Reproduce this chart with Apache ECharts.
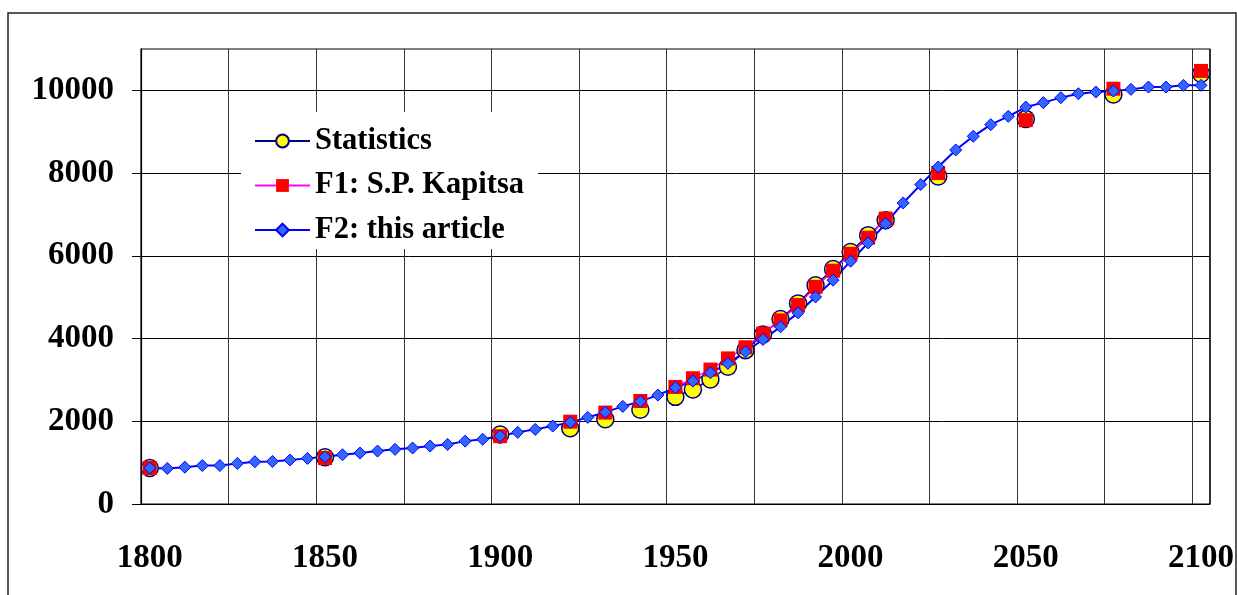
<!DOCTYPE html>
<html>
<head>
<meta charset="utf-8">
<script src="https://cdn.jsdelivr.net/npm/echarts@6/dist/echarts.min.js"></script>
<style>
html,body{margin:0;padding:0;background:#fff;}
#chart{width:1237px;height:595px;}
</style>
</head>
<body>
<div id="chart"></div>
<script>
// Categories: every 5 years 1800..2100
const years = [1800,1805,1810,1815,1820,1825,1830,1835,1840,1845,1850,1855,1860,1865,1870,1875,1880,1885,1890,1895,1900,1905,1910,1915,1920,1925,1930,1935,1940,1945,1950,1955,1960,1965,1970,1975,1980,1985,1990,1995,2000,2005,2010,2015,2020,2025,2030,2035,2040,2045,2050,2055,2060,2065,2070,2075,2080,2085,2090,2095,2100];

// Statistics and F1 (S.P. Kapitsa) are given at these years only
const statYears  = [1800,1850,1900,1920,1930,1940,1950,1955,1960,1965,1970,1975,1980,1985,1990,1995,2000,2005,2010,2025,2050,2075,2100];
const statValues = [870,1130,1680,1830,2050,2280,2590,2770,3010,3320,3720,4100,4470,4850,5290,5680,6090,6500,6860,7920,9310,9900,10400];
const f1Values   = [870,1110,1640,1990,2210,2490,2830,3040,3250,3520,3790,4120,4440,4810,5250,5640,6050,6440,6900,8000,9280,10040,10470];

// F2: this article, at every category
const f2Values = [870,860,890,930,930,980,1022,1030,1063,1103,1143,1191,1232,1280,1321,1353,1401,1440,1520,1565,1643,1732,1804,1884,1973,2094,2220,2360,2480,2633,2814,2971,3172,3398,3679,3978,4283,4621,5007,5411,5870,6312,6780,7278,7722,8148,8560,8889,9171,9372,9597,9703,9824,9920,9960,9984,10024,10080,10080,10121,10121];

const yTicks = [0,2000,4000,6000,8000,10000];
const seriesNames = ['Statistics','F1: S.P. Kapitsa','F2: this article'];

function onCategories(ys, vs){
  const out = years.map(() => null);
  ys.forEach((y, k) => { out[years.indexOf(y)] = vs[k]; });
  return out;
}

const FONT = 'Liberation Serif';
const chart = echarts.init(document.getElementById('chart'), null, {renderer:'canvas'});
chart.setOption({
  animation: false,
  backgroundColor: '#fff',
  graphic: [{
    type: 'rect', z: -10, silent: true,
    shape: {x: 8, y: 13, width: 1228, height: 620},
    style: {fill: 'none', stroke: '#222', lineWidth: 1.5}
  }],
  grid: {left: 141, top: 49, right: 24, bottom: 91, show: true, borderColor: '#000', borderWidth: 1.2, backgroundColor: 'transparent'},
  legend: {
    orient: 'vertical', left: 241, top: 112,
    padding: [12, 14, 2, 13],
    backgroundColor: '#fff',
    itemWidth: 55, itemHeight: 16, itemGap: 10.5,
    data: seriesNames,
    textStyle: {fontFamily: FONT, fontWeight: 'bold', fontSize: 30.5, color: '#000', lineHeight: 34}
  },
  xAxis: {
    type: 'category', data: years, boundaryGap: true,
    axisLine: {lineStyle: {color: '#000', width: 1.2}},
    axisTick: {interval: 4, length: 10, lineStyle: {color: '#000'}},
    axisLabel: {interval: 9, margin: 38, fontFamily: FONT, fontWeight: 'bold', fontSize: 33, color: '#000'},
    splitLine: {show: true, interval: 4, lineStyle: {color: '#333', width: 1}}
  },
  yAxis: {
    type: 'value', min: 0, max: 11000, interval: 2000,
    axisLine: {show: true, lineStyle: {color: '#000', width: 1.2}},
    axisTick: {show: true, length: 9, customValues: yTicks, lineStyle: {color: '#000'}},
    axisLabel: {margin: 27, customValues: yTicks, formatter: v => String(v), fontFamily: FONT, fontWeight: 'bold', fontSize: 33, color: '#000'},
    splitLine: {show: true, lineStyle: {color: '#000', width: 1}}
  },
  series: [
    {
      name: seriesNames[0], type: 'line', data: onCategories(statYears, statValues),
      connectNulls: false, symbol: 'circle', symbolSize: 17, showAllSymbol: true,
      lineStyle: {color: '#000080', width: 1.5},
      itemStyle: {color: '#FFFF00', borderColor: '#000080', borderWidth: 1.5}
    },
    {
      name: seriesNames[1], type: 'line', data: onCategories(statYears, f1Values),
      connectNulls: false, symbol: 'rect', symbolSize: 14, showAllSymbol: true,
      lineStyle: {color: '#FF00FF', width: 1.5},
      itemStyle: {color: '#FF0000', borderWidth: 0}
    },
    {
      name: seriesNames[2], type: 'line', data: f2Values,
      symbol: 'diamond', symbolSize: 12, showAllSymbol: true,
      lineStyle: {color: '#0000FF', width: 2},
      itemStyle: {color: '#3366FF', borderColor: '#0000FF', borderWidth: 1}
    }
  ]
});
</script>
</body>
</html>
